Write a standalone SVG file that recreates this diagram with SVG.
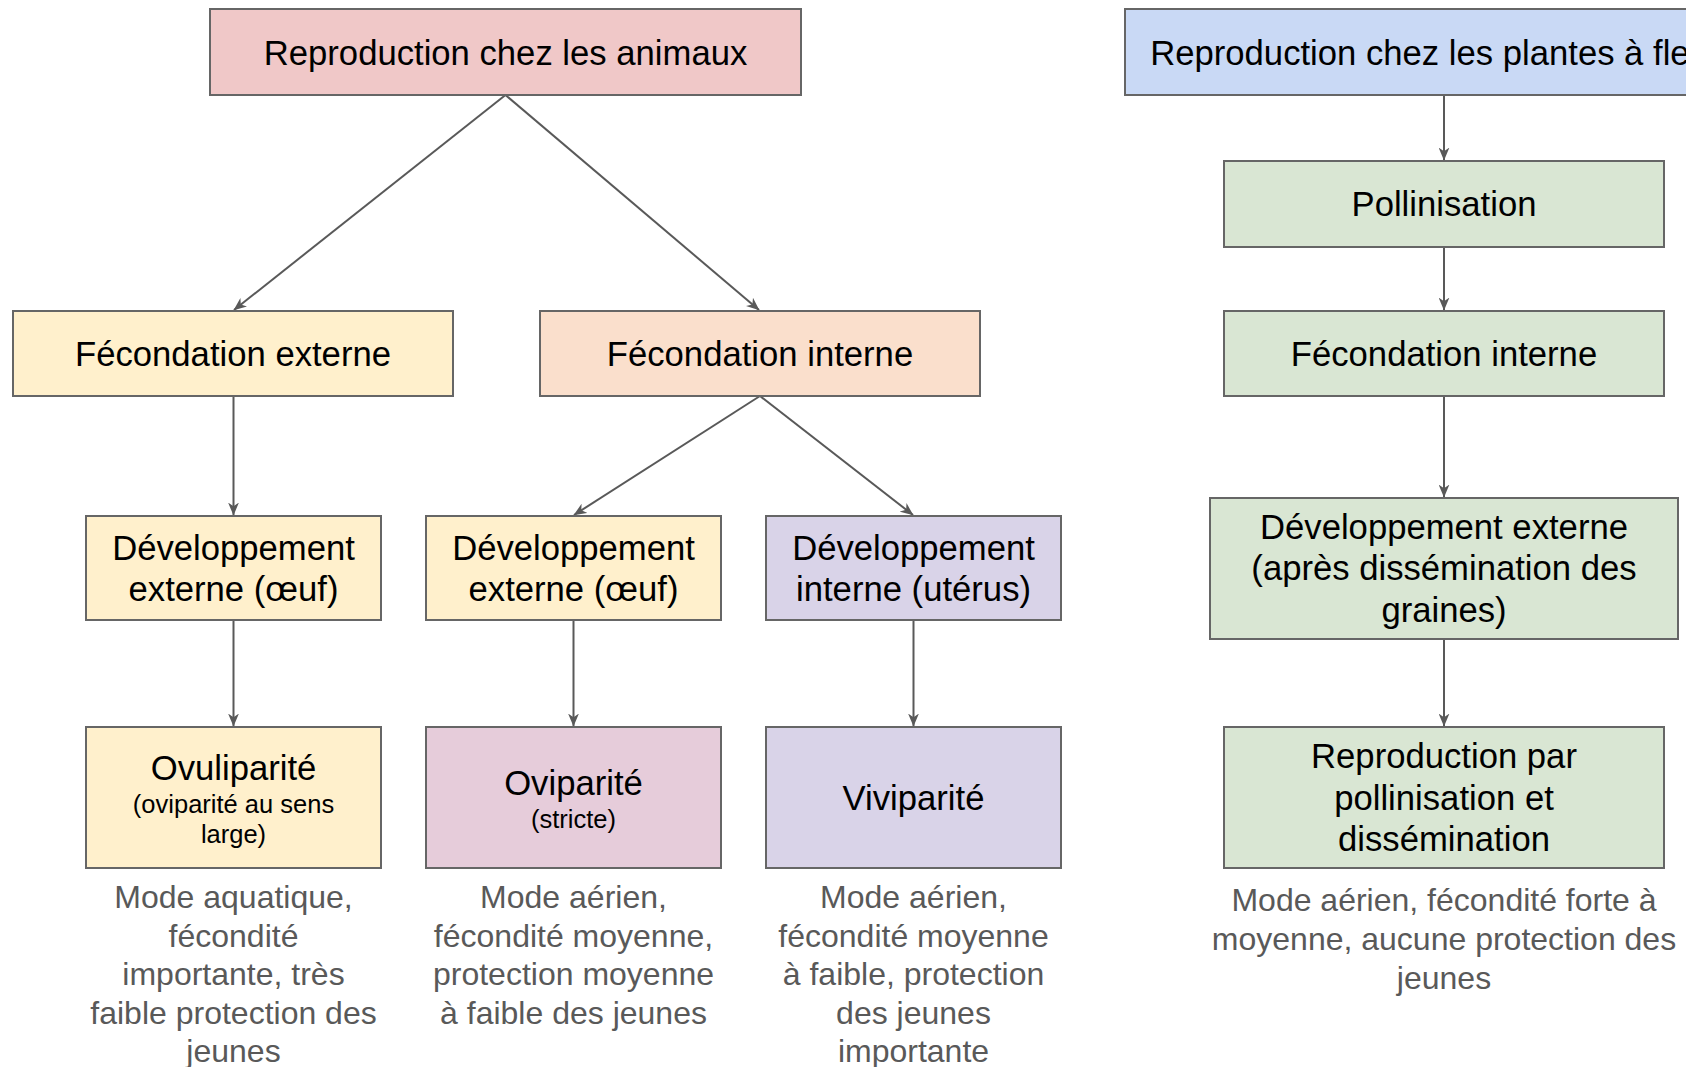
<svg xmlns="http://www.w3.org/2000/svg" width="1686" height="1067" viewBox="0 0 1686 1067">
<defs>
<style>
.box{stroke:#666666;stroke-width:2}
.t{font-family:"Liberation Sans",Arial,sans-serif;font-size:34.67px;fill:#000000;text-anchor:middle}
.s{font-family:"Liberation Sans",Arial,sans-serif;font-size:25.5px;fill:#000000;text-anchor:middle}
.d{font-family:"Liberation Sans",Arial,sans-serif;font-size:32px;fill:#595959;text-anchor:middle}
.c{stroke:#595959;stroke-width:2;fill:none;marker-end:url(#arr)}
</style>
<marker id="arr" viewBox="0 0 12 10" refX="11.5" refY="5" markerWidth="13" markerHeight="11" orient="auto" markerUnits="userSpaceOnUse">
<path d="M0,0 L12,5 L0,10 L3.5,5 Z" fill="#595959"/>
</marker>
</defs>
<rect width="1686" height="1067" fill="#ffffff"/>
<g id="connectors">
<line class="c" x1="505.5" y1="95" x2="234" y2="310"/>
<line class="c" x1="505.5" y1="95" x2="759" y2="310"/>
<line class="c" x1="233.5" y1="396" x2="233.5" y2="515"/>
<line class="c" x1="760" y1="396" x2="574" y2="515"/>
<line class="c" x1="760" y1="396" x2="913" y2="515"/>
<line class="c" x1="233.5" y1="620" x2="233.5" y2="726"/>
<line class="c" x1="573.5" y1="620" x2="573.5" y2="726"/>
<line class="c" x1="913.5" y1="620" x2="913.5" y2="726"/>
<line class="c" x1="1444" y1="95" x2="1444" y2="160"/>
<line class="c" x1="1444" y1="247" x2="1444" y2="310"/>
<line class="c" x1="1444" y1="396" x2="1444" y2="497"/>
<line class="c" x1="1444" y1="639" x2="1444" y2="726"/>
</g>
<g id="n-animaux">
<rect class="box" x="210" y="9" width="591" height="86" fill="#F0C8C8"/>
<text class="t" x="505.5" y="64.5">Reproduction chez les animaux</text>
</g>
<g id="n-fec-externe">
<rect class="box" x="13" y="311" width="440" height="85" fill="#FFF0CC"/>
<text class="t" x="233" y="365.6">Fécondation externe</text>
</g>
<g id="n-fec-interne">
<rect class="box" x="540" y="311" width="440" height="85" fill="#FADFCC"/>
<text class="t" x="760" y="365.6">Fécondation interne</text>
</g>
<g id="n-dev-ext-1">
<rect class="box" x="86" y="516" width="295" height="104" fill="#FFF0CC"/>
<text class="t" x="233.5" y="559.6">Développement</text>
<text class="t" x="233.5" y="601.2">externe (œuf)</text>
</g>
<g id="n-dev-ext-2">
<rect class="box" x="426" y="516" width="295" height="104" fill="#FFF0CC"/>
<text class="t" x="573.5" y="559.6">Développement</text>
<text class="t" x="573.5" y="601.2">externe (œuf)</text>
</g>
<g id="n-dev-int">
<rect class="box" x="766" y="516" width="295" height="104" fill="#D9D3E8"/>
<text class="t" x="913.5" y="559.6">Développement</text>
<text class="t" x="913.5" y="601.2">interne (utérus)</text>
</g>
<g id="n-ovuliparite">
<rect class="box" x="86" y="727" width="295" height="141" fill="#FFF0CC"/>
<text class="t" x="233.5" y="780">Ovuliparité</text>
<text class="s" x="233.5" y="813.2">(oviparité au sens</text>
<text class="s" x="233.5" y="843.3">large)</text>
</g>
<g id="n-oviparite">
<rect class="box" x="426" y="727" width="295" height="141" fill="#E6CCDA"/>
<text class="t" x="573.5" y="795">Oviparité</text>
<text class="s" x="573.5" y="828.3">(stricte)</text>
</g>
<g id="n-viviparite">
<rect class="box" x="766" y="727" width="295" height="141" fill="#D9D3E8"/>
<text class="t" x="913.5" y="809.6">Viviparité</text>
</g>
<g id="desc-ovuliparite">
<text class="d" x="233.5" y="908">Mode aquatique,</text>
<text class="d" x="233.5" y="946.5">fécondité</text>
<text class="d" x="233.5" y="985">importante, très</text>
<text class="d" x="233.5" y="1023.5">faible protection des</text>
<text class="d" x="233.5" y="1062">jeunes</text>
</g>
<g id="desc-oviparite">
<text class="d" x="573.5" y="908">Mode aérien,</text>
<text class="d" x="573.5" y="946.5">fécondité moyenne,</text>
<text class="d" x="573.5" y="985">protection moyenne</text>
<text class="d" x="573.5" y="1023.5">à faible des jeunes</text>
</g>
<g id="desc-viviparite">
<text class="d" x="913.5" y="908">Mode aérien,</text>
<text class="d" x="913.5" y="946.5">fécondité moyenne</text>
<text class="d" x="913.5" y="985">à faible, protection</text>
<text class="d" x="913.5" y="1023.5">des jeunes</text>
<text class="d" x="913.5" y="1062">importante</text>
</g>
<g id="n-plantes">
<rect class="box" x="1125" y="9" width="638" height="86" fill="#C9D9F5"/>
<text class="t" x="1444" y="64.5">Reproduction chez les plantes à fleurs</text>
</g>
<g id="n-pollinisation">
<rect class="box" x="1224" y="161" width="440" height="86" fill="#D9E6D3"/>
<text class="t" x="1444" y="216">Pollinisation</text>
</g>
<g id="n-fec-interne-p">
<rect class="box" x="1224" y="311" width="440" height="85" fill="#D9E6D3"/>
<text class="t" x="1444" y="365.6">Fécondation interne</text>
</g>
<g id="n-dev-ext-p">
<rect class="box" x="1210" y="498" width="468" height="141" fill="#D9E6D3"/>
<text class="t" x="1444" y="538.5">Développement externe</text>
<text class="t" x="1444" y="580">(après dissémination des</text>
<text class="t" x="1444" y="621.7">graines)</text>
</g>
<g id="n-repro-pollinisation">
<rect class="box" x="1224" y="727" width="440" height="141" fill="#D9E6D3"/>
<text class="t" x="1444" y="768">Reproduction par</text>
<text class="t" x="1444" y="809.6">pollinisation et</text>
<text class="t" x="1444" y="851.2">dissémination</text>
</g>
<g id="desc-plantes">
<text class="d" x="1444" y="911.2">Mode aérien, fécondité forte à</text>
<text class="d" x="1444" y="950">moyenne, aucune protection des</text>
<text class="d" x="1444" y="988.5">jeunes</text>
</g>
</svg>
